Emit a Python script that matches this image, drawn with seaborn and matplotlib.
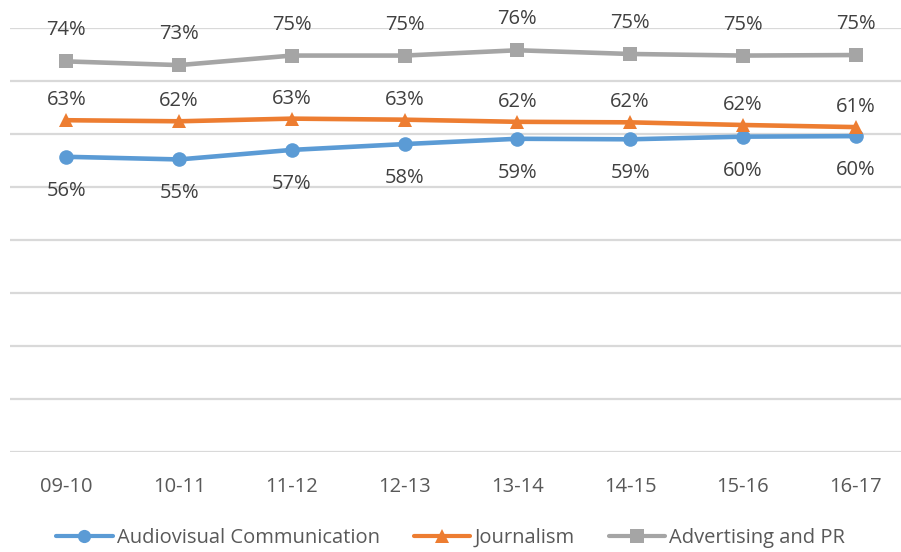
import matplotlib
matplotlib.use("Agg")
import matplotlib.pyplot as plt
from matplotlib.lines import Line2D
import seaborn as sns
import pandas as pd
import numpy as np

years = ["09-10", "10-11", "11-12", "12-13", "13-14", "14-15", "15-16", "16-17"]
audiovisual = [55.7, 55.2, 57.0, 58.1, 59.1, 59.0, 59.5, 59.6]
journalism = [62.6, 62.4, 62.9, 62.7, 62.3, 62.2, 61.7, 61.3]
advertising = [73.7, 73.0, 74.8, 74.8, 75.8, 75.1, 74.8, 74.9]
audiovisual_labels = ["56%", "55%", "57%", "58%", "59%", "59%", "60%", "60%"]
journalism_labels = ["63%", "62%", "63%", "63%", "62%", "62%", "62%", "61%"]
advertising_labels = ["74%", "73%", "75%", "75%", "76%", "75%", "75%", "75%"]

series_names = ["Audiovisual Communication", "Journalism", "Advertising and PR"]
series_values = [audiovisual, journalism, advertising]
series_labels = [audiovisual_labels, journalism_labels, advertising_labels]
colors = ["#5B9BD5", "#ED7D31", "#A5A5A5"]
markers = ["o", "^", "s"]
label_offsets = [-34, 20, 31]  # pixels, below / above each point

rows = []
for name, vals in zip(series_names, series_values):
    for i, v in enumerate(vals):
        rows.append({"idx": i, "value": v, "program": name})
df = pd.DataFrame(rows)

sns.set_theme(style="white")
plt.rcParams["font.family"] = ["Open Sans", "DejaVu Sans"]
FS = 14.5

W, H = 901, 552
fig = plt.figure(figsize=(W / 100, H / 100), dpi=100)
ax_left, ax_right = 10, 912
ax_top, ax_bottom = 28, 452
ax = fig.add_axes([ax_left / W, (H - ax_bottom) / H,
                   (ax_right - ax_left) / W, (ax_bottom - ax_top) / H])

sns.lineplot(data=df, x="idx", y="value", hue="program", style="program",
             hue_order=series_names, style_order=series_names,
             palette=colors, markers=markers, dashes=False,
             linewidth=3.3, markersize=10.5, markeredgewidth=0,
             ax=ax, legend=False, clip_on=False)

ax.set_xlim(-0.5, 7.5)
ax.set_ylim(0, 80)
ax.set_yticks(np.arange(0, 81, 10))
ax.yaxis.grid(True, color="#D9D9D9", linewidth=1.6)
ax.set_axisbelow(True)
ax.set_yticklabels([])
ax.tick_params(axis="y", length=0)
ax.set_xticks(range(len(years)))
ax.set_xticklabels(years, fontsize=FS, color="#595959")
ax.tick_params(axis="x", length=0, pad=18)
ax.set_xlabel("")
ax.set_ylabel("")
for s in ax.spines.values():
    s.set_visible(False)

text_color = "#404040"
for vals, labs, off in zip(series_values, series_labels, label_offsets):
    for i, (v, lab) in enumerate(zip(vals, labs)):
        ax.annotate(lab, (i, v), xytext=(0, off * 0.72), textcoords="offset points",
                    ha="center", va="center", fontsize=FS, color=text_color,
                    annotation_clip=False)

# legend
handles = [Line2D([], [], color=c, marker=m, linewidth=3.0, markersize=9.5,
                  markeredgewidth=0) for c, m in zip(colors, markers)]
fig.legend(handles, series_names, loc="center", bbox_to_anchor=(0.5, (H - 538) / H),
           ncol=3, frameon=False, fontsize=FS, handlelength=2.8, handletextpad=0.2,
           columnspacing=1.7, labelcolor="#595959")

fig.savefig("out.png", dpi=100)
